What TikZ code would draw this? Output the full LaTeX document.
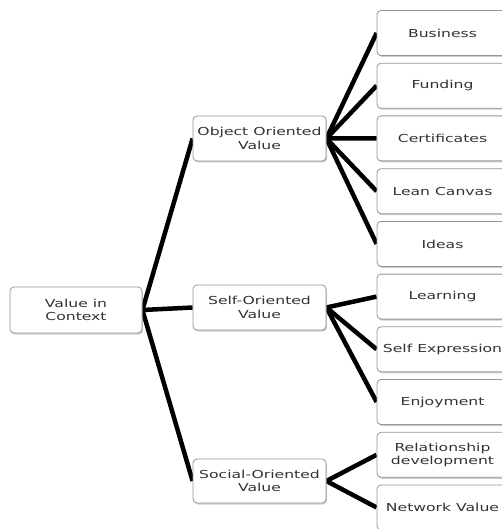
\documentclass[tikz,border=0pt]{standalone}
\usepackage{fontspec}
\setmainfont{DejaVu Sans}[FakeStretch=1.42]
\usetikzlibrary{shadows,backgrounds}
\definecolor{txtgray}{HTML}{333333}
\definecolor{boxborder}{HTML}{959595}
\tikzset{
  box/.style={draw=boxborder, line width=0.8pt, fill=white, rounded corners=4pt,
    inner sep=0pt, align=center, text=txtgray,
    font=\fontsize{11}{13.5}\selectfont,
    drop shadow={shadow xshift=1pt, shadow yshift=-1.5pt, opacity=0.4, fill=gray}},
  midbox/.style={box, minimum width=133pt, minimum height=45pt},
  leafbox/.style={box, minimum width=131pt, minimum height=45pt},
  link/.style={line width=4.5pt, black}
}
\begin{document}
\begin{tikzpicture}[x=1pt, y=-1pt]
\useasboundingbox (0,0) rectangle (501,529);
% nodes
\node[box, minimum width=132pt, minimum height=46pt] (root) at (76,310) {Value in\\Context};
\node[midbox] (obj) at (259.5,138.5) {Object Oriented\\Value};
\node[midbox] (self) at (259.5,307.5) {Self-Oriented\\Value};
\node[midbox, minimum height=44pt] (soc) at (259.5,481) {Social-Oriented\\Value};
\node[leafbox] (l1) at (442.5,33) {Business};
\node[leafbox] (l2) at (442.5,85.7) {Funding};
\node[leafbox] (l3) at (442.5,138.4) {Certificates};
\node[leafbox] (l4) at (442.5,191.2) {Lean Canvas};
\node[leafbox] (l5) at (442.5,243.9) {Ideas};
\node[leafbox] (l6) at (442.5,296.6) {Learning};
\node[leafbox] (l7) at (442.5,349.3) {Self Expression};
\node[leafbox] (l8) at (442.5,402) {Enjoyment};
\node[leafbox] (l9) at (442.5,454.8) {Relationship\\development};
\node[leafbox] (l10) at (442.5,507.5) {Network Value};
% connectors
\begin{pgfonlayer}{background}
\foreach \t in {obj,self,soc} \draw[link] (root.east) -- (\t.west);
\foreach \t in {l1,l2,l3,l4,l5} \draw[link] (obj.east) -- (\t.west);
\foreach \t in {l6,l7,l8} \draw[link] (self.east) -- (\t.west);
\foreach \t in {l9,l10} \draw[link] (soc.east) -- (\t.west);
\end{pgfonlayer}
\end{tikzpicture}
\end{document}
